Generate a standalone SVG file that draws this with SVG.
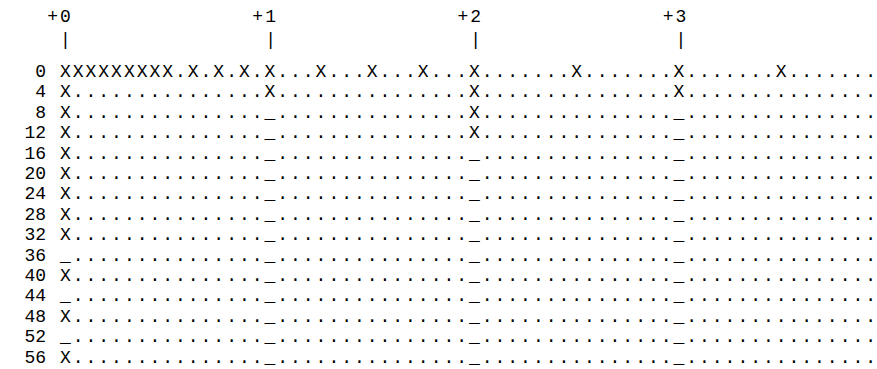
<svg xmlns="http://www.w3.org/2000/svg" width="877" height="369" viewBox="0 0 877 369">
<style>
text{font-family:"Liberation Mono","Courier New",monospace;font-size:18px;fill:#000;white-space:pre;}
.g{letter-spacing:2.02px;}
.r{letter-spacing:0;}
.lbl{text-anchor:end;}
</style>
<rect width="877" height="369" fill="#fff"/>
<g id="header">
<text class="g" x="47.2" y="22">+0              +1              +2              +3</text>
<text class="g" x="60" y="45">|               |               |               |</text>
</g>
<g id="labels">
<text x="46" y="77" class="lbl">0</text>
<text x="46" y="97.4" class="lbl">4</text>
<text x="46" y="117.8" class="lbl">8</text>
<text x="46" y="138.2" class="lbl">12</text>
<text x="46" y="158.6" class="lbl">16</text>
<text x="46" y="179" class="lbl">20</text>
<text x="46" y="199.4" class="lbl">24</text>
<text x="46" y="219.8" class="lbl">28</text>
<text x="46" y="240.2" class="lbl">32</text>
<text x="46" y="260.6" class="lbl">36</text>
<text x="46" y="281" class="lbl">40</text>
<text x="46" y="301.4" class="lbl">44</text>
<text x="46" y="321.8" class="lbl">48</text>
<text x="46" y="342.2" class="lbl">52</text>
<text x="46" y="362.6" class="lbl">56</text>
</g>
<g id="rows">
<text class="r" x="60" y="77" textLength="816" lengthAdjust="spacing">XXXXXXXXX.X.X.X.X...X...X...X...X.......X.......X.......X.......</text>
<text class="r" x="60" y="97.4" textLength="816" lengthAdjust="spacing">X...............X...............X...............X...............</text>
<text class="r" x="60" y="117.8" textLength="816" lengthAdjust="spacing">X..............._...............X..............._...............</text>
<text class="r" x="60" y="138.2" textLength="816" lengthAdjust="spacing">X..............._...............X..............._...............</text>
<text class="r" x="60" y="158.6" textLength="816" lengthAdjust="spacing">X..............._..............._..............._...............</text>
<text class="r" x="60" y="179" textLength="816" lengthAdjust="spacing">X..............._..............._..............._...............</text>
<text class="r" x="60" y="199.4" textLength="816" lengthAdjust="spacing">X..............._..............._..............._...............</text>
<text class="r" x="60" y="219.8" textLength="816" lengthAdjust="spacing">X..............._..............._..............._...............</text>
<text class="r" x="60" y="240.2" textLength="816" lengthAdjust="spacing">X..............._..............._..............._...............</text>
<text class="r" x="60" y="260.6" textLength="816" lengthAdjust="spacing">_..............._..............._..............._...............</text>
<text class="r" x="60" y="281" textLength="816" lengthAdjust="spacing">X..............._..............._..............._...............</text>
<text class="r" x="60" y="301.4" textLength="816" lengthAdjust="spacing">_..............._..............._..............._...............</text>
<text class="r" x="60" y="321.8" textLength="816" lengthAdjust="spacing">X..............._..............._..............._...............</text>
<text class="r" x="60" y="342.2" textLength="816" lengthAdjust="spacing">_..............._..............._..............._...............</text>
<text class="r" x="60" y="362.6" textLength="816" lengthAdjust="spacing">X..............._..............._..............._...............</text>
</g>
</svg>
